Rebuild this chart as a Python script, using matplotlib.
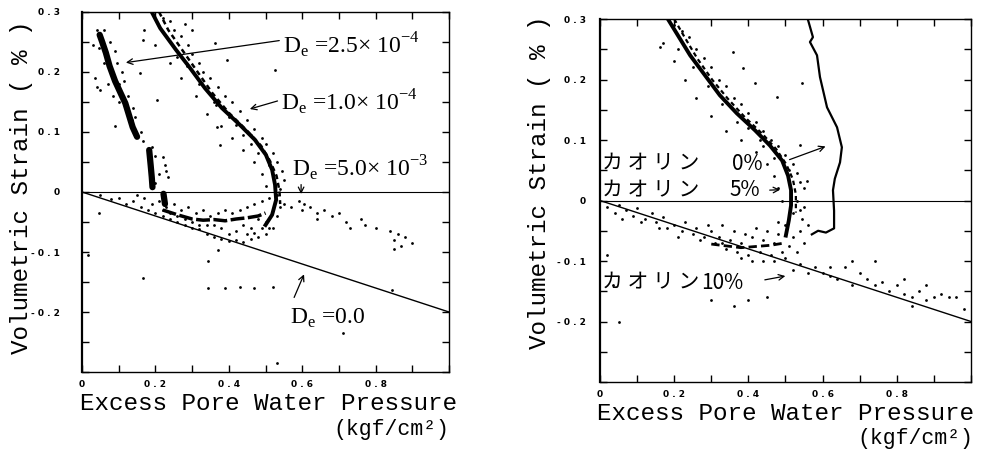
import matplotlib
matplotlib.use("Agg")
import matplotlib.pyplot as plt
import numpy as np

# ---- left panel: bands ----
band_a1_x = [0.048, 0.055, 0.065, 0.075, 0.09, 0.105, 0.118, 0.128, 0.138, 0.15]
band_a1_y = [0.262, 0.25, 0.232, 0.21, 0.185, 0.165, 0.148, 0.128, 0.108, 0.092]
band_a3_x = [0.183, 0.187, 0.19, 0.192]
band_a3_y = [0.07, 0.045, 0.025, 0.008]
band_a4_x = [0.222, 0.226]
band_a4_y = [-0.003, -0.02]

band_b_x = [0.19, 0.213, 0.256, 0.294, 0.335, 0.381, 0.43, 0.471, 0.501, 0.518, 0.526, 0.529, 0.518, 0.50]
band_b_y = [0.30, 0.273, 0.237, 0.207, 0.173, 0.14, 0.112, 0.087, 0.062, 0.037, 0.012, -0.013, -0.038, -0.055]
edge_b_x = [0.21, 0.235, 0.275, 0.315, 0.355, 0.40, 0.45, 0.488, 0.512, 0.53, 0.538, 0.54]
edge_b_y = [0.30, 0.27, 0.235, 0.2, 0.165, 0.132, 0.102, 0.077, 0.052, 0.027, 0.002, -0.02]

core_l_x = [0.22, 0.26, 0.30, 0.33, 0.36, 0.39, 0.42, 0.45, 0.48, 0.50]
core_l_y = [-0.03, -0.038, -0.045, -0.047, -0.046, -0.048, -0.045, -0.043, -0.04, -0.035]

left_dots = np.array([
    # around band A
    (0.03, 0.245), (0.04, 0.27), (0.06, 0.27), (0.075, 0.25), (0.09, 0.235), (0.095, 0.215),
    (0.11, 0.2), (0.115, 0.185), (0.035, 0.19), (0.04, 0.175), (0.05, 0.17), (0.07, 0.18),
    (0.085, 0.16), (0.1, 0.15), (0.14, 0.14), (0.145, 0.125), (0.16, 0.1), (0.165, 0.085),
    (0.09, 0.11), (0.158, 0.198), (0.166, 0.253), (0.204, 0.153), (0.19, 0.075), (0.2, 0.06),
    (0.22, 0.058), (0.225, 0.045), (0.23, 0.035), (0.235, 0.025), (0.21, 0.03), (0.2, 0.015),
    (0.045, 0.24), (0.06, 0.215), (0.08, 0.2), (0.1, 0.18), (0.125, 0.16), (0.135, 0.12),
    # around band B
    (0.22, 0.29), (0.24, 0.285), (0.25, 0.27), (0.27, 0.26), (0.29, 0.245), (0.30, 0.23),
    (0.32, 0.215), (0.33, 0.2), (0.35, 0.19), (0.37, 0.175), (0.39, 0.16), (0.41, 0.15),
    (0.43, 0.135), (0.45, 0.12), (0.47, 0.105), (0.49, 0.09), (0.50, 0.08), (0.52, 0.065),
    (0.53, 0.05), (0.545, 0.035), (0.55, 0.02), (0.54, 0.005), (0.17, 0.27), (0.2, 0.245),
    (0.24, 0.215), (0.27, 0.19), (0.31, 0.16), (0.34, 0.13), (0.38, 0.11), (0.41, 0.09),
    (0.44, 0.07), (0.47, 0.05), (0.49, 0.03), (0.5, 0.01), (0.362, 0.248), (0.395, 0.22),
    (0.526, 0.203), (0.376, 0.078), (0.368, 0.108), (0.28, 0.28), (0.3, 0.27),
    (0.44, 0.095), (0.46, 0.08), (0.48, 0.065), (0.51, 0.045), (0.36, 0.15), (0.4, 0.125),
    (0.26, 0.225), (0.285, 0.21), (0.32, 0.18), (0.365, 0.145), (0.42, 0.112), (0.46, 0.095),
    # lower cluster
    (0.05, -0.005), (0.08, -0.012), (0.1, -0.01), (0.12, -0.02), (0.14, -0.015), (0.16, -0.025),
    (0.18, -0.03), (0.2, -0.035), (0.22, -0.04), (0.24, -0.045), (0.26, -0.05), (0.28, -0.055),
    (0.3, -0.06), (0.32, -0.062), (0.34, -0.07), (0.36, -0.075), (0.38, -0.078), (0.40, -0.082),
    (0.42, -0.08), (0.44, -0.083), (0.46, -0.078), (0.48, -0.075), (0.50, -0.07), (0.52, -0.06),
    (0.15, -0.005), (0.17, -0.01), (0.19, -0.02), (0.21, -0.015), (0.23, -0.025), (0.25, -0.02),
    (0.27, -0.03), (0.29, -0.025), (0.31, -0.035), (0.33, -0.03), (0.35, -0.04), (0.37, -0.035),
    (0.39, -0.03), (0.41, -0.035), (0.43, -0.03), (0.45, -0.025), (0.47, -0.02), (0.49, -0.015),
    (0.51, -0.01), (0.3, -0.05), (0.34, -0.055), (0.38, -0.06), (0.42, -0.065), (0.46, -0.06),
    (0.5, -0.05), (0.26, -0.04), (0.22, -0.03), (0.36, -0.055), (0.44, -0.055), (0.48, -0.045),
    (0.52, -0.03), (0.53, -0.04), (0.51, -0.06), (0.49, -0.06), (0.53, -0.005), (0.54, -0.025),
    (0.32, -0.055), (0.4, -0.07), (0.45, -0.07), (0.47, -0.068), (0.28, -0.045), (0.24, -0.035),
    # D=5e-3 trail
    (0.55, -0.02), (0.57, -0.025), (0.59, -0.015), (0.60, -0.03), (0.62, -0.025), (0.64, -0.035),
    (0.66, -0.03), (0.68, -0.04), (0.70, -0.035), (0.72, -0.05), (0.73, -0.06), (0.76, -0.045),
    (0.77, -0.055), (0.80, -0.06), (0.84, -0.065), (0.85, -0.08), (0.86, -0.07), (0.87, -0.09),
    (0.88, -0.075), (0.9, -0.085), (0.85, -0.095), (0.64, -0.045), (0.605, -0.02),
    # strays
    (0.045, -0.035), (0.017, -0.105), (0.167, -0.143), (0.344, -0.115), (0.371, -0.097),
    (0.344, -0.16), (0.39, -0.16), (0.43, -0.158), (0.47, -0.16), (0.52, -0.158),
    (0.53, -0.285), (0.71, -0.235), (0.845, -0.163),
])

# ---- right panel ----
band_5_x = [0.183, 0.21, 0.243, 0.283, 0.323, 0.369, 0.418, 0.458, 0.491, 0.507, 0.515, 0.515, 0.509, 0.501]
band_5_y = [0.30, 0.273, 0.24, 0.207, 0.174, 0.144, 0.116, 0.091, 0.066, 0.041, 0.017, -0.008, -0.033, -0.058]
edge_5_x = [0.2, 0.228, 0.262, 0.302, 0.345, 0.39, 0.438, 0.475, 0.502, 0.52, 0.528, 0.528]
edge_5_y = [0.30, 0.27, 0.235, 0.2, 0.168, 0.138, 0.11, 0.085, 0.06, 0.035, 0.01, -0.02]

curve_0_x = [0.561, 0.574, 0.566, 0.585, 0.593, 0.612, 0.639, 0.652, 0.647, 0.633, 0.628, 0.631, 0.631, 0.609, 0.588, 0.571]
curve_0_y = [0.298, 0.27, 0.262, 0.24, 0.204, 0.154, 0.121, 0.088, 0.063, 0.036, 0.017, -0.017, -0.046, -0.053, -0.05, -0.056]

core_r_x = [0.30, 0.34, 0.38, 0.42, 0.46, 0.50]
core_r_y = [-0.072, -0.075, -0.078, -0.076, -0.074, -0.07]

right_dots = np.array([
    (0.2, 0.29), (0.22, 0.28), (0.24, 0.27), (0.26, 0.25), (0.28, 0.235), (0.3, 0.22),
    (0.32, 0.2), (0.34, 0.19), (0.36, 0.17), (0.38, 0.16), (0.40, 0.145), (0.42, 0.13),
    (0.44, 0.115), (0.46, 0.1), (0.48, 0.09), (0.5, 0.075), (0.52, 0.06), (0.53, 0.045),
    (0.54, 0.03), (0.55, 0.02), (0.53, 0.0), (0.54, -0.015), (0.545, -0.03),
    (0.17, 0.26), (0.2, 0.23), (0.23, 0.2), (0.26, 0.17), (0.3, 0.14), (0.34, 0.115),
    (0.38, 0.1), (0.42, 0.08), (0.45, 0.06), (0.47, 0.04), (0.48, 0.02), (0.49, 0.0),
    (0.162, 0.253), (0.359, 0.245), (0.386, 0.219), (0.418, 0.194), (0.544, 0.194),
    (0.477, 0.171), (0.539, 0.091), (0.558, 0.033), (0.25, 0.22), (0.33, 0.16), (0.4, 0.12),
    (0.44, 0.09), (0.47, 0.07), (0.51, 0.05), (0.21, 0.25), (0.29, 0.19), (0.37, 0.13),
    (0.43, 0.1), (0.49, 0.065),
    # lower U cluster
    (0.02, -0.01), (0.04, -0.02), (0.05, -0.008), (0.07, -0.015), (0.09, -0.025), (0.1, -0.012),
    (0.12, -0.03), (0.14, -0.02), (0.15, -0.035), (0.17, -0.028), (0.18, -0.045), (0.2, -0.04),
    (0.22, -0.05), (0.23, -0.035), (0.25, -0.055), (0.26, -0.045), (0.28, -0.06), (0.29, -0.04),
    (0.3, -0.05), (0.31, -0.07), (0.32, -0.06), (0.33, -0.04), (0.34, -0.08), (0.35, -0.065),
    (0.36, -0.05), (0.37, -0.085), (0.38, -0.07), (0.39, -0.055), (0.40, -0.09), (0.41, -0.06),
    (0.42, -0.045), (0.43, -0.085), (0.44, -0.065), (0.45, -0.05), (0.46, -0.09), (0.47, -0.07),
    (0.48, -0.055), (0.49, -0.085), (0.5, -0.04), (0.51, -0.075), (0.52, -0.06), (0.53, -0.085),
    (0.54, -0.05), (0.55, -0.07), (0.56, -0.04), (0.52, -0.02), (0.55, -0.01), (0.48, -0.035),
    (0.44, -0.1), (0.47, -0.1), (0.5, -0.095), (0.38, -0.095), (0.41, -0.1),
    (0.06, -0.03), (0.11, -0.035), (0.16, -0.045), (0.21, -0.06), (0.27, -0.065), (0.33, -0.07),
    # 10% trail along the line
    (0.52, -0.115), (0.54, -0.105), (0.56, -0.12), (0.58, -0.11), (0.6, -0.12), (0.62, -0.125),
    (0.64, -0.13), (0.66, -0.11), (0.68, -0.14), (0.7, -0.12), (0.72, -0.13), (0.74, -0.14),
    (0.76, -0.135), (0.78, -0.15), (0.8, -0.14), (0.82, -0.155), (0.84, -0.16), (0.86, -0.15),
    (0.88, -0.165), (0.9, -0.16), (0.92, -0.155), (0.94, -0.16), (0.96, -0.16), (0.98, -0.18),
    (0.68, -0.1), (0.74, -0.1), (0.82, -0.13), (0.88, -0.14), (0.84, -0.175), (0.62, -0.11),
    # strays
    (0.035, -0.14), (0.05, -0.2), (0.3, -0.165), (0.36, -0.175), (0.4, -0.165), (0.45, -0.16),
    (0.02, -0.09),
])

d0_x = [0.0, 1.0]
d0_y = [0.0, -0.2]

x_ticks = np.arange(0, 1.01, 0.1)
x_labels = ['0', '', '0 . 2', '', '0 . 4', '', '0 . 6', '', '0 . 8', '', '']
y_ticks = np.arange(-0.3, 0.301, 0.05)
y_labels = ['', '', '- 0 . 2', '', '- 0 . 1', '', '0', '', '0 . 1', '', '0 . 2', '', '0 . 3']

mono = 'Liberation Mono'
serif = 'Liberation Serif'
jp = ['Noto Sans CJK JP', 'DejaVu Sans']

fig = plt.figure(figsize=(10.04, 4.54), dpi=100)
ax1 = fig.add_axes([0.0817, 0.1806, 0.3655, 0.793])
ax2 = fig.add_axes([0.5976, 0.1586, 0.3695, 0.7995])


def style(ax, ypad):
    ax.set_xlim(0, 1.0)
    ax.set_ylim(-0.3, 0.3)
    ax.set_xticks(x_ticks)
    ax.set_xticklabels(x_labels)
    ax.set_yticks(y_ticks)
    ax.set_yticklabels(y_labels)
    ax.tick_params(direction='in', length=5, width=1, top=True, right=True,
                   labelsize=6.5)
    ax.tick_params(axis='y', pad=ypad)
    ax.tick_params(axis='x', pad=6)
    for lab in ax.get_xticklabels() + ax.get_yticklabels():
        lab.set_fontweight('bold')
    for s in ax.spines.values():
        s.set_linewidth(1.0)
    ax.spines['left'].set_linewidth(1.6)
    ax.axhline(0, color='k', lw=0.8)
    ax.plot(d0_x, d0_y, color='k', lw=1.0)


style(ax1, 16)
style(ax2, 10)

# left panel marks
for bx, by in [(band_a1_x, band_a1_y), (band_a3_x, band_a3_y), (band_a4_x, band_a4_y)]:
    ax1.plot(bx, by, color='k', lw=4.5, solid_capstyle='round')
ax1.plot(band_b_x, band_b_y, color='k', lw=2.8)
ax1.plot(edge_b_x, edge_b_y, color='k', lw=1.8, ls=(0, (2, 1.5)))
ax1.plot(core_l_x, core_l_y, color='k', lw=2.5, ls=(0, (4, 1)))
ax1.scatter(left_dots[:, 0], left_dots[:, 1], s=4, color='k', linewidths=0)

# right panel marks
ax2.plot(band_5_x, band_5_y, color='k', lw=2.8)
ax2.plot(edge_5_x, edge_5_y, color='k', lw=1.6, ls=(0, (2, 1.5)))
ax2.plot(curve_0_x, curve_0_y, color='k', lw=1.6)
ax2.plot(core_r_x, core_r_y, color='k', lw=2.0, ls=(0, (3, 1.5)))
ax2.scatter(right_dots[:, 0], right_dots[:, 1], s=4, color='k', linewidths=0)

arrow = dict(arrowstyle='->', lw=0.9, color='k')

# left annotations
ax1.text(0.548, 0.245, 'D$_{\\mathregular{e}}$ =2.5× 10$^{\\mathregular{-4}}$', family=serif, fontsize=17, va='center')
ax1.annotate('', xy=(0.112, 0.215), xytext=(0.545, 0.253), arrowprops=arrow)
ax1.text(0.542, 0.15, 'D$_{\\mathregular{e}}$ =1.0× 10$^{\\mathregular{-4}}$', family=serif, fontsize=17, va='center')
ax1.annotate('', xy=(0.45, 0.137), xytext=(0.54, 0.153), arrowprops=arrow)
ax1.text(0.572, 0.04, 'D$_{\\mathregular{e}}$ =5.0× 10$^{\\mathregular{-3}}$', family=serif, fontsize=17, va='center')
ax1.annotate('', xy=(0.597, -0.008), xytext=(0.597, 0.017), arrowprops=arrow)
ax1.text(0.567, -0.21, 'D$_{\\mathregular{e}}$ =0.0', family=serif, fontsize=17, va='center')
ax1.annotate('', xy=(0.608, -0.133), xytext=(0.575, -0.18), arrowprops=arrow)

# right annotations
ax2.text(0.005, 0.061, 'カ オ リ ン', family=jp, fontsize=15, va='center')
ax2.text(0.356, 0.061, '0%', family=jp, fontsize=15, va='center')
ax2.annotate('', xy=(0.615, 0.091), xytext=(0.504, 0.066), arrowprops=arrow)
ax2.text(0.005, 0.017, 'カ オ リ ン', family=jp, fontsize=15, va='center')
ax2.text(0.35, 0.017, '5%', family=jp, fontsize=15, va='center')
ax2.annotate('', xy=(0.493, 0.018), xytext=(0.45, 0.017), arrowprops=arrow)
ax2.text(0.005, -0.136, 'カ オ リ ン', family=jp, fontsize=15, va='center')
ax2.text(0.272, -0.136, '10%', family=jp, fontsize=15, va='center')
ax2.annotate('', xy=(0.507, -0.124), xytext=(0.437, -0.132), arrowprops=arrow)

# axis labels
fig.text(0.0219, 0.588, 'Volumetric Strain ( % )', family=mono, fontsize=17.5,
         rotation=90, ha='center', va='center')
fig.text(0.5369, 0.599, 'Volumetric Strain ( % )', family=mono, fontsize=17.5,
         rotation=90, ha='center', va='center')
fig.text(0.0797, 0.112, 'Excess Pore Water Pressure', family=mono, fontsize=17.5,
         ha='left', va='center')
fig.text(0.3317, 0.0529, '(kgf/cm²)', family=mono, fontsize=15.5, ha='left', va='center')
fig.text(0.5946, 0.09, 'Excess Pore Water Pressure', family=mono, fontsize=17.5,
         ha='left', va='center')
fig.text(0.8536, 0.0352, '(kgf/cm²)', family=mono, fontsize=15.5, ha='left', va='center')

fig.savefig('out.png', dpi=100)
